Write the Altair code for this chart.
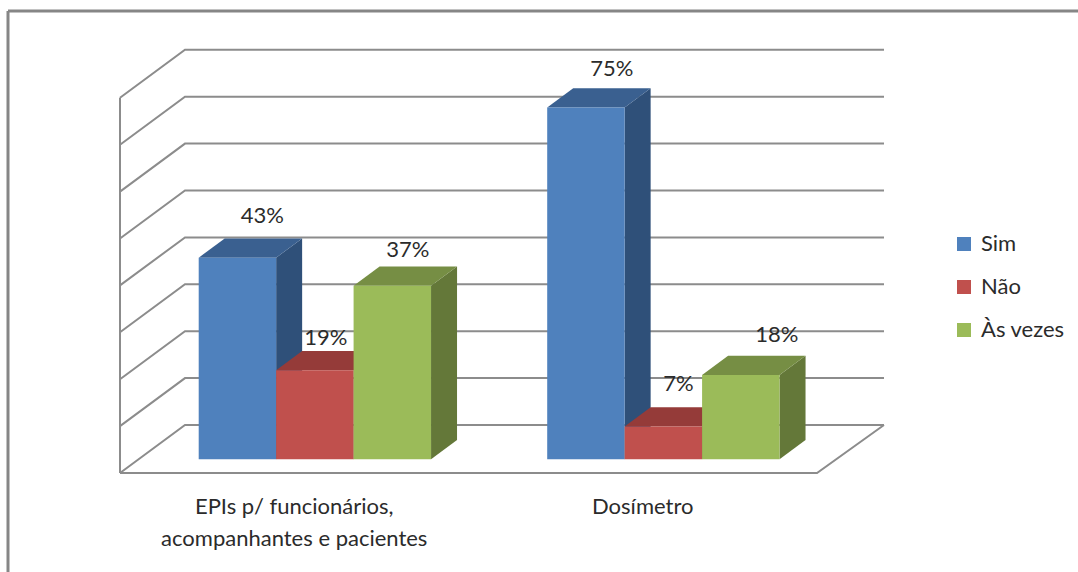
import altair as alt
import pandas as pd

# Survey results, in percent
categories = ["EPIs p/ funcionários,\nacompanhantes e pacientes", "Dosímetro"]
series = ["Sim", "Não", "Às vezes"]
sim_values = [43, 75]
nao_values = [19, 7]
vezes_values = [37, 18]
y_ticks = [0, 10, 20, 30, 40, 50, 60, 70, 80]

# Colours
front_colors = ["#4F81BD", "#C0504D", "#9BBB59"]
top_colors = ["#3A6090", "#953B39", "#768E44"]
side_colors = ["#2F5079", "#7A3130", "#647839"]
line_color = "#8C8C8C"
text_color = "#2B2B2B"
font = "Lato"

# Oblique projection of the 3-D box
PLOT_W, PLOT_H = 764, 425
PX_PER_CAT = 348.5
PX_PER_PCT = 4.69
x_max = PLOT_W / PX_PER_CAT
y_max = PLOT_H / PX_PER_PCT
wall_dx = 65 / PX_PER_CAT  # floor depth, in x units
wall_dy = 48 / PX_PER_PCT  # floor depth, in y units
z_front = 0.285            # where the bars start along the depth
z_size = 0.40              # how deep the bars are
bar_w = 1 / 4.5
bar_lead = 0.75 * bar_w + 0.006

# Label placement relative to the front centre of each bar (dx, dy)
label_nudge = [(25, -42), (11, -32), (15.5, -36), (26, -39), (15, -42), (36, -40)]

values = [sim_values, nao_values, vezes_values]
wall_rows, front_rows, top_rows, side_rows, labels = [], [], [], [], []

for v in y_ticks:
    key = f"grid{v}"
    wall_rows += [
        {"k": key, "o": 0, "x": 0, "y": v},
        {"k": key, "o": 1, "x": wall_dx, "y": v + wall_dy},
        {"k": key, "o": 2, "x": x_max, "y": v + wall_dy},
    ]
wall_rows += [
    {"k": "floor", "o": 0, "x": 0, "y": 0},
    {"k": "floor", "o": 1, "x": 2, "y": 0},
    {"k": "floor", "o": 2, "x": x_max, "y": wall_dy},
]
wall_rows += [
    {"k": "axis", "o": 0, "x": 0, "y": 0},
    {"k": "axis", "o": 1, "x": 0, "y": 80},
]

base_y = z_front * wall_dy
for c in range(len(categories)):
    for s, name in enumerate(series):
        v = values[s][c]
        bar = f"{c}-{s}"
        x0 = c + z_front * wall_dx + bar_lead + s * bar_w
        x1 = x0 + bar_w
        top = v + base_y
        ddx, ddy = z_size * wall_dx, z_size * wall_dy
        front_rows.append({"series": name, "x": x0, "x2": x1, "y": base_y, "y2": top})
        top_rows += [
            {"bar": bar, "shade": top_colors[s], "y": top, "x": x0, "x2": x1},
            {"bar": bar, "shade": top_colors[s], "y": top + ddy, "x": x0 + ddx, "x2": x1 + ddx},
        ]
        side_rows += [
            {"bar": bar, "shade": side_colors[s], "x": x1, "y": base_y, "y2": top},
            {"bar": bar, "shade": side_colors[s], "x": x1 + ddx, "y": base_y + ddy, "y2": top + ddy},
        ]
        labels.append({"x": (x0 + x1) / 2, "y": top, "text": f"{v}%"})

x_scale = alt.Scale(domain=[0, x_max], nice=False, zero=False)
y_scale = alt.Scale(domain=[0, y_max], nice=False, zero=False)
X = alt.X("x:Q", scale=x_scale, axis=None)
Y = alt.Y("y:Q", scale=y_scale, axis=None)

# Wall and floor lines, carrying the two axes
walls = (
    alt.Chart(pd.DataFrame(wall_rows))
    .mark_line(color=line_color, strokeWidth=2)
    .encode(
        x=alt.X(
            "x:Q",
            scale=x_scale,
            axis=alt.Axis(
                values=[0, 1, 2], labels=False, domain=False, grid=False, title=None,
                tickColor=line_color, tickWidth=2, tickSize=10,
            ),
        ),
        y=alt.Y(
            "y:Q",
            scale=y_scale,
            axis=alt.Axis(
                values=y_ticks, domain=False, grid=False, title=None,
                labelExpr="datum.value + '%'", labelFont=font, labelFontSize=22,
                labelColor=text_color, labelPadding=17,
                tickColor=line_color, tickWidth=2, tickSize=9,
            ),
        ),
        detail="k:N",
        order="o:Q",
    )
)

sides = (
    alt.Chart(pd.DataFrame(side_rows))
    .mark_area(opacity=1)
    .encode(x=X, y=Y, y2="y2:Q", detail="bar:N", color=alt.Color("shade:N", scale=None))
)

tops = (
    alt.Chart(pd.DataFrame(top_rows))
    .mark_area(orient="horizontal", opacity=1)
    .encode(y=Y, x=X, x2="x2:Q", detail="bar:N", color=alt.Color("shade:N", scale=None))
)

fronts = (
    alt.Chart(pd.DataFrame(front_rows))
    .mark_rect()
    .encode(
        x=X,
        x2="x2:Q",
        y=Y,
        y2="y2:Q",
        color=alt.Color(
            "series:N",
            scale=alt.Scale(domain=series, range=front_colors),
            legend=alt.Legend(
                title=None, orient="none", legendX=833, legendY=185,
                symbolType="square", symbolSize=196, symbolStrokeWidth=0,
                labelFont=font, labelFontSize=22, labelColor=text_color,
                labelOffset=6, rowPadding=21, symbolOpacity=1,
            ),
        ),
    )
)

value_labels = [
    alt.Chart(pd.DataFrame([row]))
    .mark_text(font=font, fontSize=22, color=text_color, dx=dx, dy=dy)
    .encode(x=X, y=Y, text="text:N")
    for row, (dx, dy) in zip(labels, label_nudge)
]

category_labels = (
    alt.Chart(pd.DataFrame({"x": [0.5, 1.5], "text": categories}))
    .mark_text(
        font=font, fontSize=22, color=text_color, lineBreak="\n", lineHeight=32,
        baseline="top", align="center",
    )
    .encode(x=X, y=alt.value(449), text="text:N")
)

# Outer chart frame: left and top edges only
frame_left = alt.Chart(pd.DataFrame({"a": [0]})).mark_rule(color="#868686", strokeWidth=3).encode(
    x=alt.value(-112), y=alt.value(-37), y2=alt.value(524)
)
frame_top = alt.Chart(pd.DataFrame({"a": [0]})).mark_rule(color="#868686", strokeWidth=3).encode(
    x=alt.value(-112), x2=alt.value(958), y=alt.value(-37)
)

chart = (
    alt.layer(walls, sides, tops, fronts, *value_labels, category_labels, frame_left, frame_top)
    .resolve_scale(color="independent")
    .properties(
        width=PLOT_W,
        height=PLOT_H,
        autosize=alt.AutoSizeParams(type="none"),
        padding={"left": 120, "top": 48, "right": 194, "bottom": 99},
        background="#FFFFFF",
    )
    .configure_view(stroke=None)
)

chart.save("out.html", embed_options={"renderer": "svg", "actions": False})
